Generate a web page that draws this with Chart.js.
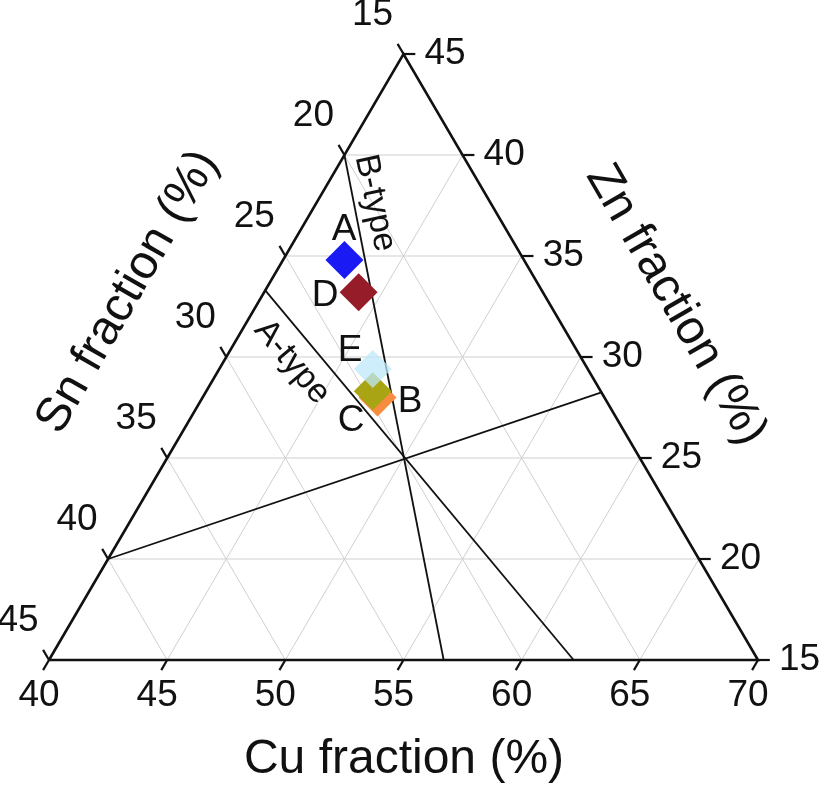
<!DOCTYPE html>
<html lang="en">
<head>
<meta charset="UTF-8">
<title>Cu-Sn-Zn ternary</title>
<script src="https://cdn.jsdelivr.net/npm/chart.js"></script>
<style>
  body { margin: 0; background: #fff; }
  #wrap { width: 819px; height: 788px; }
</style>
</head>
<body>
<div id="wrap"><canvas id="tern" width="819" height="788"></canvas></div>
<script>
// sample compositions (%), drawn in this order (E last, on top)
const samples = ['A', 'D', 'B', 'C', 'E'];
const cuVals = [42.6, 44.0, 47.4, 47.05, 46.5];
const snVals = [22.6, 22.8, 24.6, 24.65, 24.1];
const znVals = [34.8, 33.2, 28.0, 28.3, 29.4];
const sampleColors = ['#1a1af5', '#961c2a', '#f78c40', '#a8a414', 'rgba(188,232,248,0.75)'];

// axis ticks
const cuTicks = [40, 45, 50, 55, 60, 65, 70];
const snTicks = [15, 20, 25, 30, 35, 40, 45];
const znTicks = [45, 40, 35, 30, 25, 20, 15];

// boundary lines, endpoints as [Cu, Sn, Zn]
const splitLine = [[40, 40, 20], [56.75, 15, 28.25]];
const aTypeLine = [[40, 26.7, 33.3], [62.2, 22.8, 15]];
const bTypeLine = [[40, 20, 40], [56.7, 28.3, 15]];

const FONT = '"Liberation Sans", Arial, sans-serif';

// ternary -> cartesian (x in Cu units, y = Zn)
function tern(cu, sn, zn) {
  return { x: (cu - 40) + (zn - 15) / 2, y: zn };
}

function seg(p, q, color, width, order) {
  return {
    data: [tern(...p), tern(...q)],
    showLine: true,
    borderColor: color,
    borderWidth: width,
    pointRadius: 0,
    fill: false,
    clip: false,
    order: order
  };
}

const datasets = [];

// markers
datasets.push({
  data: samples.map((s, i) => tern(cuVals[i], snVals[i], znVals[i])),
  pointStyle: 'rectRot',
  pointRadius: 19,
  pointBackgroundColor: sampleColors,
  pointBorderWidth: 0,
  borderWidth: 0,
  showLine: false,
  clip: false,
  order: 0
});

// A/B type boundaries
[splitLine, aTypeLine, bTypeLine].forEach(l => datasets.push(seg(l[0], l[1], '#111', 1.8, 1)));

// triangle frame
datasets.push({
  data: [tern(40, 45, 15), tern(70, 15, 15), tern(40, 15, 45), tern(40, 45, 15)],
  showLine: true, borderColor: '#111', borderWidth: 2.6, pointRadius: 0,
  fill: false, clip: false, order: 2
});

// ticks (outside the frame)
const d = 0.5;
cuTicks.forEach(c => datasets.push(seg([c, 85 - c, 15], [c, 85 - c + d, 15 - d], '#111', 2.2, 2)));
snTicks.forEach(s => datasets.push(seg([40, s, 60 - s], [40 - d, s, 60 - s + d], '#111', 2.2, 2)));
znTicks.forEach(z => datasets.push(seg([85 - z, 15, z], [85 - z + d, 15 - d, z], '#111', 2.2, 2)));

// grid
const gridCol = '#cfcfcf';
for (let z = 20; z <= 40; z += 5) datasets.push(seg([40, 60 - z, z], [85 - z, 15, z], gridCol, 1, 3));
for (let c = 45; c <= 65; c += 5) datasets.push(seg([c, 85 - c, 15], [c, 15, 85 - c], gridCol, 1, 3));
for (let s = 20; s <= 40; s += 5) datasets.push(seg([40, s, 60 - s], [85 - s, s, 15], gridCol, 1, 3));

function rotText(ctx, txt, x, y, deg) {
  ctx.save();
  ctx.translate(x, y);
  ctx.rotate(deg * Math.PI / 180);
  ctx.fillText(txt, 0, 0);
  ctx.restore();
}

const labelPlugin = {
  id: 'ternLabels',
  afterDatasetsDraw(chart) {
    const ctx = chart.ctx;
    const xs = chart.scales.x, ys = chart.scales.y;
    const px = (cu, sn, zn) => {
      const p = tern(cu, sn, zn);
      return [xs.getPixelForValue(p.x), ys.getPixelForValue(p.y)];
    };
    ctx.save();
    ctx.fillStyle = '#111';
    ctx.textBaseline = 'middle';

    // tick labels
    ctx.font = '37px ' + FONT;
    ctx.textAlign = 'center';
    cuTicks.forEach(c => { const [a, b] = px(c, 85 - c, 15); ctx.fillText(String(c), a - 10, b + 36); });
    snTicks.forEach(s => { const [a, b] = px(40, s, 60 - s); ctx.fillText(String(s), a - 31, b - 39); });
    ctx.textAlign = 'left';
    znTicks.forEach(z => { const [a, b] = px(85 - z, 15, z); ctx.fillText(String(z), a + 21, b); });

    // axis titles
    ctx.font = '48px ' + FONT;
    ctx.textAlign = 'center';
    ctx.fillText('Cu fraction (%)', 404, 760);
    rotText(ctx, 'Sn fraction (%)', 128, 292, -60);
    rotText(ctx, 'Zn fraction (%)', 676, 305, 60);

    // sample + region labels
    ctx.font = '37px ' + FONT;
    const spots = { A: [344, 230], D: [325, 296], E: [350, 351], B: [410, 402], C: [351, 421] };
    samples.forEach(s => ctx.fillText(s, spots[s][0], spots[s][1]));
    ctx.font = '34px ' + FONT;
    rotText(ctx, 'A-type', 292, 362, 50);
    rotText(ctx, 'B-type', 375, 203, 78);
    ctx.restore();
  }
};

new Chart(document.getElementById('tern'), {
  type: 'scatter',
  data: { datasets: datasets },
  options: {
    responsive: false,
    animation: false,
    devicePixelRatio: 1,
    layout: { padding: { left: 49, right: 61, top: 54, bottom: 128 } },
    scales: {
      x: { type: 'linear', min: 0, max: 30, display: false },
      y: { type: 'linear', min: 15, max: 45, display: false }
    },
    plugins: { legend: { display: false }, tooltip: { enabled: false } },
    elements: { line: { tension: 0 } }
  },
  plugins: [labelPlugin]
});
</script>
</body>
</html>
